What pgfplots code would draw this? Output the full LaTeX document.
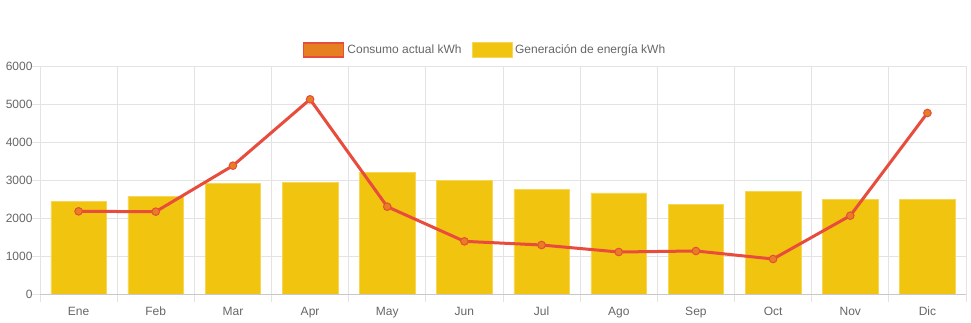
\documentclass[border=0pt]{standalone}
\usepackage{pgfplots}
\pgfplotsset{compat=1.18}
\usepackage{pgfplotstable}
\usepackage{fontspec}
\setmainfont{Liberation Sans}
\definecolor{barY}{HTML}{F1C40F}
\definecolor{lineR}{HTML}{E74C3C}
\definecolor{markO}{HTML}{E67E22}
\definecolor{gridC}{HTML}{E3E3E3}
\definecolor{zeroC}{HTML}{C8C8C8}
\definecolor{txt}{HTML}{666666}
\pgfplotstableread{
x gen cons
0 2447 2175
1 2560 2167
2 2912 3377
3 2947 5123
4 3210 2298
5 2982 1386
6 2746 1289
7 2658 1105
8 2360 1132
9 2710 921
10 2491 2061
11 2491 4763
}\data
\begin{document}
\begin{tikzpicture}
\useasboundingbox (0,0) rectangle (971bp,323bp);
\begin{axis}[
  at={(40bp,29bp)}, anchor=south west,
  scale only axis, width=926bp, height=228bp,
  xmin=-0.5, xmax=11.5, ymin=0, ymax=6000,
  xtick={0,...,11},
  xticklabels={Ene,Feb,Mar,Apr,May,Jun,Jul,Ago,Sep,Oct,Nov,Dic},
  minor xtick={-0.5,0.5,...,11.5},
  xtick pos=bottom, ytick pos=left,
  major x tick style={draw=none},
  minor x tick style={gridC, line width=0.8bp},
  minor tick length=8bp,
  xminorgrids=true,
  minor x grid style={gridC, line width=0.8bp},
  ytick={0,1000,...,6000},
  ymajorgrids=true,
  major y grid style={gridC, line width=0.8bp},
  major y tick style={gridC, line width=0.8bp},
  major tick length=8bp,
  tick align=outside,
  axis line style={gridC, line width=0.8bp},
  tick label style={font=\fontsize{12bp}{14bp}\selectfont, text=txt},
  /pgf/number format/assume math mode=true,
  /pgf/number format/fixed,
  /pgf/number format/1000 sep={},
  scaled y ticks=false,
  xticklabel style={text height=9bp, text depth=2bp, yshift=-1bp},
  yticklabel style={xshift=4bp},
  reverse legend,
  legend style={at={(0.4806,1.070)}, anchor=center, draw=none, fill=none,
    legend columns=2, font=\fontsize{12bp}{14bp}\selectfont, text=txt,
    /tikz/every even column/.append style={column sep=8bp},
    /tikz/every odd column/.append style={column sep=1bp},
    inner sep=0pt},
  legend cell align=left,
  clip=false,
]
\addplot[ybar, bar width=0.72, bar shift=0, fill=barY, draw=barY!70!white, line width=0.6bp,
  legend image code/.code={\draw[fill=barY, draw=barY!70!white, line width=0.6bp] (0bp,-7.5bp) rectangle (40bp,7.5bp);}]
  table[x=x, y=gen] {\data};
\addlegendentry{Generación de energía kWh}
\draw[zeroC, line width=0.8bp] (axis cs:-0.5,0) -- (axis cs:11.5,0);
\addplot[lineR, line width=3bp, mark=*, mark size=3.8bp,
  mark options={fill=markO, draw=lineR, line width=1bp},
  legend image code/.code={\draw[fill=markO, draw=lineR, line width=1.6bp] (0bp,-7bp) rectangle (40bp,7bp);}]
  table[x=x, y=cons] {\data};
\addlegendentry{Consumo actual kWh}
\end{axis}
\end{tikzpicture}
\end{document}
